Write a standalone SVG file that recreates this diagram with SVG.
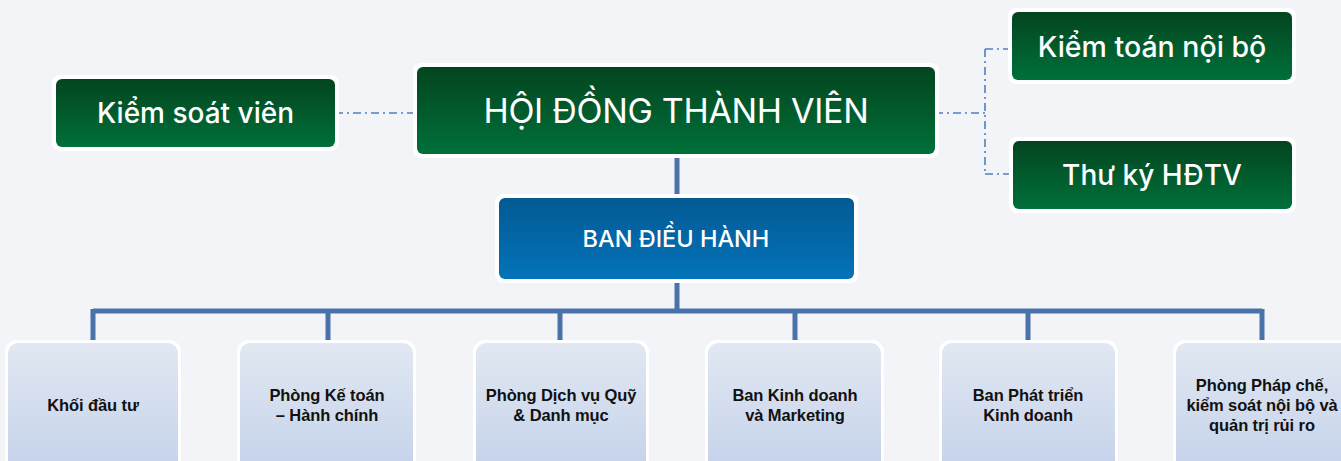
<svg xmlns="http://www.w3.org/2000/svg" width="1341" height="461" viewBox="0 0 1341 461">
  <defs>
    <linearGradient id="gGreen" x1="0" y1="0" x2="0" y2="1">
      <stop offset="0" stop-color="#03451f"/>
      <stop offset="1" stop-color="#00703a"/>
    </linearGradient>
    <linearGradient id="gBlue" x1="0" y1="0" x2="0" y2="1">
      <stop offset="0" stop-color="#035a94"/>
      <stop offset="1" stop-color="#0373b9"/>
    </linearGradient>
    <linearGradient id="gPale" x1="0" y1="0" x2="0" y2="1">
      <stop offset="0" stop-color="#e1e8f2"/>
      <stop offset="1" stop-color="#c3d1ea"/>
    </linearGradient>
    <style>
      .halo { fill: #ffffff; }
      .green { fill: url(#gGreen); }
      .blue { fill: url(#gBlue); }
      .pale { fill: url(#gPale); }
      .tw { fill: #ffffff; font-family: Inter, "Liberation Sans", sans-serif; text-anchor: middle; dominant-baseline: central; }
      .tb { fill: #111111; font-family: "Liberation Sans", Arial, sans-serif; font-weight: bold; font-size: 16.5px; text-anchor: middle; letter-spacing: -0.1px; }
      .dash { fill: none; stroke: #4f7fc4; stroke-width: 1.6; stroke-dasharray: 8 4 2 4; }
      .solid { fill: none; stroke: #4a72aa; stroke-width: 5; }
    </style>
  </defs>

  <rect width="1341" height="461" fill="#f3f4f7"/>

  <g id="connectors">
    <path class="dash" d="M335 113 H417"/>
    <path class="dash" d="M935 113 H985 M985 49 V174 M985 49 H1012 M985 174 H1013"/>
    <path class="solid" d="M677 154 V198"/>
    <path class="solid" d="M677 279 V311"/>
    <path class="solid" d="M93 311 H1262"/>
    <path class="solid" d="M93 309 V343 M328 309 V343 M560 309 V343 M795 309 V343 M1028 309 V343 M1262 309 V343"/>
  </g>

  <g id="kiem-soat-vien">
    <rect class="halo" x="52" y="75" width="287" height="76" rx="8"/>
    <rect class="green" x="56" y="79" width="279" height="68" rx="6"/>
    <text class="tw" x="195.5" y="113" font-size="28" font-weight="500">Kiểm soát viên</text>
  </g>

  <g id="hoi-dong-thanh-vien">
    <rect class="halo" x="413" y="63" width="526" height="95" rx="8"/>
    <rect class="green" x="417" y="67" width="518" height="87" rx="6"/>
    <text class="tw" x="676" y="110" font-size="34" font-weight="400" letter-spacing="-0.3">HỘI ĐỒNG THÀNH VIÊN</text>
  </g>

  <g id="kiem-toan-noi-bo">
    <rect class="halo" x="1008" y="8" width="288" height="76" rx="8"/>
    <rect class="green" x="1012" y="12" width="280" height="68" rx="6"/>
    <text class="tw" x="1152" y="46" font-size="28.5" font-weight="500">Kiểm toán nội bộ</text>
  </g>

  <g id="thu-ky-hdtv">
    <rect class="halo" x="1009" y="137" width="287" height="76" rx="8"/>
    <rect class="green" x="1013" y="141" width="279" height="68" rx="6"/>
    <text class="tw" x="1152" y="175" font-size="28" font-weight="500">Thư ký HĐTV</text>
  </g>

  <g id="ban-dieu-hanh">
    <rect class="halo" x="495" y="194" width="363" height="89" rx="8"/>
    <rect class="blue" x="499" y="198" width="355" height="81" rx="6"/>
    <text class="tw" x="676" y="238" font-size="23.5" font-weight="500">BAN ĐIỀU HÀNH</text>
  </g>

  <g id="khoi-dau-tu">
    <rect class="halo" x="5" y="340" width="176" height="140" rx="12"/>
    <rect class="pale" x="8" y="343" width="170" height="134" rx="10"/>
    <text class="tb" x="93" y="411">Khối đầu tư</text>
  </g>

  <g id="phong-ke-toan">
    <rect class="halo" x="237" y="340" width="179" height="140" rx="12"/>
    <rect class="pale" x="240" y="343" width="173" height="134" rx="10"/>
    <text class="tb" x="327" y="401">Phòng Kế toán</text>
    <text class="tb" x="327" y="421">– Hành chính</text>
  </g>

  <g id="phong-dich-vu">
    <rect class="halo" x="473" y="340" width="176" height="140" rx="12"/>
    <rect class="pale" x="476" y="343" width="170" height="134" rx="10"/>
    <text class="tb" x="561" y="401">Phòng Dịch vụ Quỹ</text>
    <text class="tb" x="561" y="421">&amp; Danh mục</text>
  </g>

  <g id="ban-kinh-doanh">
    <rect class="halo" x="705" y="340" width="179" height="140" rx="12"/>
    <rect class="pale" x="708" y="343" width="173" height="134" rx="10"/>
    <text class="tb" x="795" y="401">Ban Kinh doanh</text>
    <text class="tb" x="795" y="421">và Marketing</text>
  </g>

  <g id="ban-phat-trien">
    <rect class="halo" x="939" y="340" width="179" height="140" rx="12"/>
    <rect class="pale" x="942" y="343" width="173" height="134" rx="10"/>
    <text class="tb" x="1028" y="401">Ban Phát triển</text>
    <text class="tb" x="1028" y="421">Kinh doanh</text>
  </g>

  <g id="phong-phap-che">
    <rect class="halo" x="1173" y="340" width="180" height="140" rx="12"/>
    <rect class="pale" x="1176" y="343" width="174" height="134" rx="10"/>
    <text class="tb" x="1262" y="391">Phòng Pháp chế,</text>
    <text class="tb" x="1262" y="411">kiểm soát nội bộ và</text>
    <text class="tb" x="1262" y="431">quản trị rủi ro</text>
  </g>
</svg>
